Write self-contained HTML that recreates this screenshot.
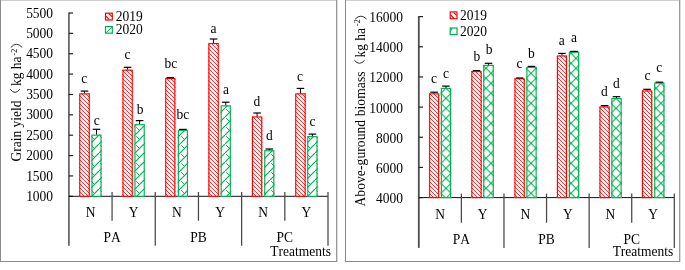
<!DOCTYPE html><html><head><meta charset="utf-8"><style>html,body{margin:0;padding:0;background:#fff;width:685px;height:270px;overflow:hidden}svg{display:block}text{font-family:"Liberation Serif",serif;fill:#000;font-kerning:none}</style></head><body>
<div style="width:685px;height:270px;will-change:transform"><svg width="685" height="270" viewBox="0 0 685 270">
<defs>
<pattern id="pr" patternUnits="userSpaceOnUse" width="4" height="4"><rect width="4" height="4" fill="#fff"/><path d="M-1,-1 L5,5 M-1,3 L1,5 M3,-1 L5,1" stroke="#ff0000" stroke-width="0.82"/></pattern>
<pattern id="pg" patternUnits="userSpaceOnUse" width="9" height="9"><rect width="9" height="9" fill="#fff"/><path d="M-1,10 L10,-1" stroke="#00b050" stroke-width="1.15" fill="none"/><path d="M1.2,1.2 L4.5,4.5" stroke="#00b050" stroke-width="0.95" fill="none"/></pattern>
<pattern id="pg2" patternUnits="userSpaceOnUse" width="10" height="10" patternTransform="translate(1,3.3)"><rect width="10" height="10" fill="#fff"/><path d="M-1,11 L11,-1 M-1,-1 L11,11" stroke="#00b050" stroke-width="1.05" fill="none"/></pattern>
</defs>
<rect width="685" height="270" fill="#fff"/>
<rect x="0.00" y="0.00" width="337.00" height="1.00" fill="#cfcfcf" stroke="none" stroke-width="0"/>
<rect x="0.00" y="0.00" width="1.00" height="262.00" fill="#8a8a8a" stroke="none" stroke-width="0"/>
<rect x="336.00" y="0.00" width="1.00" height="262.00" fill="#9a9a9a" stroke="none" stroke-width="0"/>
<rect x="337.00" y="0.00" width="1.00" height="262.00" fill="#dcdcdc" stroke="none" stroke-width="0"/>
<rect x="0.00" y="261.00" width="337.00" height="1.00" fill="#8a8a8a" stroke="none" stroke-width="0"/>
<rect x="345.00" y="0.00" width="335.00" height="1.00" fill="#cfcfcf" stroke="none" stroke-width="0"/>
<rect x="345.00" y="0.00" width="1.00" height="262.00" fill="#8a8a8a" stroke="none" stroke-width="0"/>
<rect x="679.00" y="0.00" width="1.00" height="262.00" fill="#9a9a9a" stroke="none" stroke-width="0"/>
<rect x="680.00" y="0.00" width="1.00" height="262.00" fill="#dcdcdc" stroke="none" stroke-width="0"/>
<rect x="345.00" y="261.00" width="335.00" height="1.00" fill="#8a8a8a" stroke="none" stroke-width="0"/>
<rect x="68.00" y="12.50" width="1.8" height="233.30" fill="#6a6a6a"/>
<line x1="68.90" y1="196.30" x2="73.10" y2="196.30" stroke="#222" stroke-width="1.2"/>
<text transform="translate(53.10,200.90) scale(1,1.03)" text-anchor="end" font-size="13.5" >1000</text>
<line x1="68.90" y1="175.93" x2="73.10" y2="175.93" stroke="#222" stroke-width="1.2"/>
<text transform="translate(53.10,180.53) scale(1,1.03)" text-anchor="end" font-size="13.5" >1500</text>
<line x1="68.90" y1="155.57" x2="73.10" y2="155.57" stroke="#222" stroke-width="1.2"/>
<text transform="translate(53.10,160.17) scale(1,1.03)" text-anchor="end" font-size="13.5" >2000</text>
<line x1="68.90" y1="135.20" x2="73.10" y2="135.20" stroke="#222" stroke-width="1.2"/>
<text transform="translate(53.10,139.80) scale(1,1.03)" text-anchor="end" font-size="13.5" >2500</text>
<line x1="68.90" y1="114.83" x2="73.10" y2="114.83" stroke="#222" stroke-width="1.2"/>
<text transform="translate(53.10,119.43) scale(1,1.03)" text-anchor="end" font-size="13.5" >3000</text>
<line x1="68.90" y1="94.47" x2="73.10" y2="94.47" stroke="#222" stroke-width="1.2"/>
<text transform="translate(53.10,99.07) scale(1,1.03)" text-anchor="end" font-size="13.5" >3500</text>
<line x1="68.90" y1="74.10" x2="73.10" y2="74.10" stroke="#222" stroke-width="1.2"/>
<text transform="translate(53.10,78.70) scale(1,1.03)" text-anchor="end" font-size="13.5" >4000</text>
<line x1="68.90" y1="53.73" x2="73.10" y2="53.73" stroke="#222" stroke-width="1.2"/>
<text transform="translate(53.10,58.33) scale(1,1.03)" text-anchor="end" font-size="13.5" >4500</text>
<line x1="68.90" y1="33.37" x2="73.10" y2="33.37" stroke="#222" stroke-width="1.2"/>
<text transform="translate(53.10,37.97) scale(1,1.03)" text-anchor="end" font-size="13.5" >5000</text>
<line x1="68.90" y1="13.00" x2="73.10" y2="13.00" stroke="#222" stroke-width="1.2"/>
<text transform="translate(53.10,17.60) scale(1,1.03)" text-anchor="end" font-size="13.5" >5500</text>
<line x1="68.90" y1="196.30" x2="328.00" y2="196.30" stroke="#111" stroke-width="1.0"/>
<line x1="112.08" y1="192.00" x2="112.08" y2="220.70" stroke="#474747" stroke-width="1.25"/>
<line x1="155.27" y1="192.00" x2="155.27" y2="245.80" stroke="#474747" stroke-width="1.25"/>
<line x1="198.45" y1="192.00" x2="198.45" y2="220.70" stroke="#474747" stroke-width="1.25"/>
<line x1="241.63" y1="192.00" x2="241.63" y2="245.80" stroke="#474747" stroke-width="1.25"/>
<line x1="284.82" y1="192.00" x2="284.82" y2="220.70" stroke="#474747" stroke-width="1.25"/>
<line x1="328.00" y1="192.00" x2="328.00" y2="245.80" stroke="#474747" stroke-width="1.25"/>
<text transform="translate(90.49,217.00) scale(1,1.03)" text-anchor="middle" font-size="13.5" >N</text>
<text transform="translate(133.68,217.00) scale(1,1.03)" text-anchor="middle" font-size="13.5" >Y</text>
<text transform="translate(176.86,217.00) scale(1,1.03)" text-anchor="middle" font-size="13.5" >N</text>
<text transform="translate(220.04,217.00) scale(1,1.03)" text-anchor="middle" font-size="13.5" >Y</text>
<text transform="translate(263.23,217.00) scale(1,1.03)" text-anchor="middle" font-size="13.5" >N</text>
<text transform="translate(306.41,217.00) scale(1,1.03)" text-anchor="middle" font-size="13.5" >Y</text>
<text transform="translate(112.08,241.70) scale(1,1.03)" text-anchor="middle" font-size="13.5" >PA</text>
<text transform="translate(198.45,241.70) scale(1,1.03)" text-anchor="middle" font-size="13.5" >PB</text>
<text transform="translate(284.82,241.70) scale(1,1.03)" text-anchor="middle" font-size="13.5" >PC</text>
<text transform="translate(331.00,255.80) scale(1,1.03)" text-anchor="end" font-size="13.5" >Treatments</text>
<rect x="79.00" y="93.30" width="11.00" height="103.00" fill="url(#pr)"/>
<rect x="79.78" y="93.88" width="9.45" height="102.43" fill="none" stroke="#ff0000" stroke-width="1.15"/>
<line x1="84.50" y1="91.10" x2="84.50" y2="93.30" stroke="#000" stroke-width="1"/>
<line x1="80.70" y1="91.10" x2="88.30" y2="91.10" stroke="#000" stroke-width="1.2"/>
<rect x="91.20" y="134.60" width="10.60" height="61.70" fill="url(#pg)"/>
<rect x="91.98" y="135.17" width="9.05" height="61.13" fill="none" stroke="#00b050" stroke-width="1.15"/>
<line x1="96.50" y1="129.30" x2="96.50" y2="134.60" stroke="#000" stroke-width="1"/>
<line x1="92.70" y1="129.30" x2="100.30" y2="129.30" stroke="#000" stroke-width="1.2"/>
<rect x="122.20" y="69.60" width="10.80" height="126.70" fill="url(#pr)"/>
<rect x="122.98" y="70.17" width="9.25" height="126.13" fill="none" stroke="#ff0000" stroke-width="1.15"/>
<line x1="127.60" y1="67.30" x2="127.60" y2="69.60" stroke="#000" stroke-width="1"/>
<line x1="123.80" y1="67.30" x2="131.40" y2="67.30" stroke="#000" stroke-width="1.2"/>
<rect x="134.20" y="124.10" width="10.80" height="72.20" fill="url(#pg)"/>
<rect x="134.97" y="124.67" width="9.25" height="71.63" fill="none" stroke="#00b050" stroke-width="1.15"/>
<line x1="139.60" y1="120.60" x2="139.60" y2="124.10" stroke="#000" stroke-width="1"/>
<line x1="135.80" y1="120.60" x2="143.40" y2="120.60" stroke="#000" stroke-width="1.2"/>
<rect x="165.00" y="78.00" width="10.60" height="118.30" fill="url(#pr)"/>
<rect x="165.77" y="78.58" width="9.05" height="117.73" fill="none" stroke="#ff0000" stroke-width="1.15"/>
<line x1="166.50" y1="77.60" x2="174.10" y2="77.60" stroke="#000" stroke-width="1.2"/>
<rect x="177.60" y="129.80" width="10.60" height="66.50" fill="url(#pg)"/>
<rect x="178.37" y="130.38" width="9.05" height="65.92" fill="none" stroke="#00b050" stroke-width="1.15"/>
<line x1="179.10" y1="129.40" x2="186.70" y2="129.40" stroke="#000" stroke-width="1.2"/>
<rect x="208.10" y="43.00" width="10.90" height="153.30" fill="url(#pr)"/>
<rect x="208.87" y="43.58" width="9.35" height="152.73" fill="none" stroke="#ff0000" stroke-width="1.15"/>
<line x1="213.55" y1="39.00" x2="213.55" y2="43.00" stroke="#000" stroke-width="1"/>
<line x1="209.75" y1="39.00" x2="217.35" y2="39.00" stroke="#000" stroke-width="1.2"/>
<rect x="220.40" y="105.30" width="10.70" height="91.00" fill="url(#pg)"/>
<rect x="221.17" y="105.88" width="9.15" height="90.43" fill="none" stroke="#00b050" stroke-width="1.15"/>
<line x1="225.75" y1="102.20" x2="225.75" y2="105.30" stroke="#000" stroke-width="1"/>
<line x1="221.95" y1="102.20" x2="229.55" y2="102.20" stroke="#000" stroke-width="1.2"/>
<rect x="251.70" y="116.40" width="10.80" height="79.90" fill="url(#pr)"/>
<rect x="252.47" y="116.98" width="9.25" height="79.33" fill="none" stroke="#ff0000" stroke-width="1.15"/>
<line x1="257.10" y1="113.00" x2="257.10" y2="116.40" stroke="#000" stroke-width="1"/>
<line x1="253.30" y1="113.00" x2="260.90" y2="113.00" stroke="#000" stroke-width="1.2"/>
<rect x="264.00" y="150.20" width="10.60" height="46.10" fill="url(#pg)"/>
<rect x="264.77" y="150.77" width="9.05" height="45.53" fill="none" stroke="#00b050" stroke-width="1.15"/>
<line x1="269.30" y1="149.00" x2="269.30" y2="150.20" stroke="#000" stroke-width="1"/>
<line x1="265.50" y1="149.00" x2="273.10" y2="149.00" stroke="#000" stroke-width="1.2"/>
<rect x="295.00" y="93.30" width="10.90" height="103.00" fill="url(#pr)"/>
<rect x="295.77" y="93.88" width="9.35" height="102.43" fill="none" stroke="#ff0000" stroke-width="1.15"/>
<line x1="300.45" y1="88.40" x2="300.45" y2="93.30" stroke="#000" stroke-width="1"/>
<line x1="296.65" y1="88.40" x2="304.25" y2="88.40" stroke="#000" stroke-width="1.2"/>
<rect x="307.00" y="136.10" width="10.80" height="60.20" fill="url(#pg)"/>
<rect x="307.77" y="136.67" width="9.25" height="59.63" fill="none" stroke="#00b050" stroke-width="1.15"/>
<line x1="312.40" y1="134.10" x2="312.40" y2="136.10" stroke="#000" stroke-width="1"/>
<line x1="308.60" y1="134.10" x2="316.20" y2="134.10" stroke="#000" stroke-width="1.2"/>
<text transform="translate(84.35,83.30) scale(1,1.03)" text-anchor="middle" font-size="13.5" >c</text>
<text transform="translate(96.65,124.80) scale(1,1.03)" text-anchor="middle" font-size="13.5" >c</text>
<text transform="translate(127.40,59.30) scale(1,1.03)" text-anchor="middle" font-size="13.5" >c</text>
<text transform="translate(140.00,113.50) scale(1,1.03)" text-anchor="middle" font-size="13.5" >b</text>
<text transform="translate(170.80,68.00) scale(1,1.03)" text-anchor="middle" font-size="13.5" >bc</text>
<text transform="translate(182.90,119.40) scale(1,1.03)" text-anchor="middle" font-size="13.5" >bc</text>
<text transform="translate(213.60,33.00) scale(1,1.03)" text-anchor="middle" font-size="13.5" >a</text>
<text transform="translate(225.90,94.20) scale(1,1.03)" text-anchor="middle" font-size="13.5" >a</text>
<text transform="translate(256.90,106.00) scale(1,1.03)" text-anchor="middle" font-size="13.5" >d</text>
<text transform="translate(269.30,139.80) scale(1,1.03)" text-anchor="middle" font-size="13.5" >d</text>
<text transform="translate(300.10,80.70) scale(1,1.03)" text-anchor="middle" font-size="13.5" >c</text>
<text transform="translate(312.50,125.60) scale(1,1.03)" text-anchor="middle" font-size="13.5" >c</text>
<rect x="105.50" y="13.20" width="6.8" height="6.8" fill="#fff" stroke="#ff0000" stroke-width="1.2"/>
<path d="M108.90,13.60 L111.90,16.60 M105.90,16.20 L109.30,19.60" stroke="#ff0000" stroke-width="1.2"/>
<rect x="105.50" y="26.60" width="6.8" height="6.6" fill="#fff" stroke="#00b050" stroke-width="1.2"/>
<path d="M106.10,32.80 L111.80,27.10" stroke="#00b050" stroke-width="1.0" fill="none"/>
<text transform="translate(115.80,20.90) scale(1,1.03)" text-anchor="start" font-size="13.5" >2019</text>
<text transform="translate(115.80,34.30) scale(1,1.03)" text-anchor="start" font-size="13.5" >2020</text>
<text transform="translate(21.20,161.50) rotate(-90) scale(1,1.03)" font-size="13.5">Grain yield</text>
<path d="M10.20,89.20 Q15.05,95.60 19.90,89.20" fill="none" stroke="#1a1a1a" stroke-width="0.9"/>
<text transform="translate(21.20,86.00) rotate(-90) scale(1,1.03)" font-size="13.5">kg ha</text>
<text transform="translate(17.00,55.50) rotate(-90) scale(1,1.03)" font-size="8">-2</text>
<path d="M10.80,47.40 Q16.50,41.20 22.20,47.40" fill="none" stroke="#1a1a1a" stroke-width="0.9"/>
<rect x="417.90" y="16.10" width="1.8" height="231.80" fill="#4e4e4e"/>
<line x1="418.80" y1="197.60" x2="423.00" y2="197.60" stroke="#222" stroke-width="1.2"/>
<text transform="translate(403.00,203.00) scale(1,1.03)" text-anchor="end" font-size="13.5" >4000</text>
<line x1="418.80" y1="167.43" x2="423.00" y2="167.43" stroke="#222" stroke-width="1.2"/>
<text transform="translate(403.00,172.83) scale(1,1.03)" text-anchor="end" font-size="13.5" >6000</text>
<line x1="418.80" y1="137.27" x2="423.00" y2="137.27" stroke="#222" stroke-width="1.2"/>
<text transform="translate(403.00,142.67) scale(1,1.03)" text-anchor="end" font-size="13.5" >8000</text>
<line x1="418.80" y1="107.10" x2="423.00" y2="107.10" stroke="#222" stroke-width="1.2"/>
<text transform="translate(403.00,112.50) scale(1,1.03)" text-anchor="end" font-size="13.5" >10000</text>
<line x1="418.80" y1="76.93" x2="423.00" y2="76.93" stroke="#222" stroke-width="1.2"/>
<text transform="translate(403.00,82.33) scale(1,1.03)" text-anchor="end" font-size="13.5" >12000</text>
<line x1="418.80" y1="46.77" x2="423.00" y2="46.77" stroke="#222" stroke-width="1.2"/>
<text transform="translate(403.00,52.17) scale(1,1.03)" text-anchor="end" font-size="13.5" >14000</text>
<line x1="418.80" y1="16.60" x2="423.00" y2="16.60" stroke="#222" stroke-width="1.2"/>
<text transform="translate(403.00,22.00) scale(1,1.03)" text-anchor="end" font-size="13.5" >16000</text>
<line x1="418.80" y1="197.60" x2="674.30" y2="197.60" stroke="#111" stroke-width="1.0"/>
<line x1="461.38" y1="193.60" x2="461.38" y2="222.70" stroke="#474747" stroke-width="1.25"/>
<line x1="503.97" y1="193.60" x2="503.97" y2="247.90" stroke="#474747" stroke-width="1.25"/>
<line x1="546.55" y1="193.60" x2="546.55" y2="222.70" stroke="#474747" stroke-width="1.25"/>
<line x1="589.13" y1="193.60" x2="589.13" y2="247.90" stroke="#474747" stroke-width="1.25"/>
<line x1="631.72" y1="193.60" x2="631.72" y2="222.70" stroke="#474747" stroke-width="1.25"/>
<line x1="674.30" y1="193.60" x2="674.30" y2="247.90" stroke="#474747" stroke-width="1.25"/>
<text transform="translate(440.09,219.10) scale(1,1.03)" text-anchor="middle" font-size="13.5" >N</text>
<text transform="translate(482.68,219.10) scale(1,1.03)" text-anchor="middle" font-size="13.5" >Y</text>
<text transform="translate(525.26,219.10) scale(1,1.03)" text-anchor="middle" font-size="13.5" >N</text>
<text transform="translate(567.84,219.10) scale(1,1.03)" text-anchor="middle" font-size="13.5" >Y</text>
<text transform="translate(610.42,219.10) scale(1,1.03)" text-anchor="middle" font-size="13.5" >N</text>
<text transform="translate(653.01,219.10) scale(1,1.03)" text-anchor="middle" font-size="13.5" >Y</text>
<text transform="translate(461.38,243.90) scale(1,1.03)" text-anchor="middle" font-size="13.5" >PA</text>
<text transform="translate(546.55,243.90) scale(1,1.03)" text-anchor="middle" font-size="13.5" >PB</text>
<text transform="translate(631.72,243.90) scale(1,1.03)" text-anchor="middle" font-size="13.5" >PC</text>
<text transform="translate(673.30,255.80) scale(1,1.03)" text-anchor="end" font-size="13.5" >Treatments</text>
<rect x="428.90" y="93.30" width="10.50" height="104.30" fill="url(#pr)"/>
<rect x="429.67" y="93.88" width="8.95" height="103.72" fill="none" stroke="#ff0000" stroke-width="1.15"/>
<line x1="434.15" y1="92.20" x2="434.15" y2="93.30" stroke="#000" stroke-width="1"/>
<line x1="430.35" y1="92.20" x2="437.95" y2="92.20" stroke="#000" stroke-width="1.2"/>
<rect x="440.60" y="87.80" width="10.70" height="109.80" fill="url(#pg2)"/>
<rect x="441.38" y="88.38" width="9.15" height="109.22" fill="none" stroke="#00b050" stroke-width="1.15"/>
<line x1="445.95" y1="86.10" x2="445.95" y2="87.80" stroke="#000" stroke-width="1"/>
<line x1="442.15" y1="86.10" x2="449.75" y2="86.10" stroke="#000" stroke-width="1.2"/>
<rect x="471.10" y="71.10" width="10.80" height="126.50" fill="url(#pr)"/>
<rect x="471.88" y="71.67" width="9.25" height="125.92" fill="none" stroke="#ff0000" stroke-width="1.15"/>
<line x1="472.70" y1="70.60" x2="480.30" y2="70.60" stroke="#000" stroke-width="1.2"/>
<rect x="483.00" y="64.80" width="11.00" height="132.80" fill="url(#pg2)"/>
<rect x="483.77" y="65.38" width="9.45" height="132.23" fill="none" stroke="#00b050" stroke-width="1.15"/>
<line x1="488.50" y1="63.30" x2="488.50" y2="64.80" stroke="#000" stroke-width="1"/>
<line x1="484.70" y1="63.30" x2="492.30" y2="63.30" stroke="#000" stroke-width="1.2"/>
<rect x="514.20" y="78.30" width="10.80" height="119.30" fill="url(#pr)"/>
<rect x="514.98" y="78.88" width="9.25" height="118.72" fill="none" stroke="#ff0000" stroke-width="1.15"/>
<line x1="515.80" y1="78.00" x2="523.40" y2="78.00" stroke="#000" stroke-width="1.2"/>
<rect x="526.10" y="66.90" width="10.80" height="130.70" fill="url(#pg2)"/>
<rect x="526.88" y="67.48" width="9.25" height="130.12" fill="none" stroke="#00b050" stroke-width="1.15"/>
<line x1="527.70" y1="66.40" x2="535.30" y2="66.40" stroke="#000" stroke-width="1.2"/>
<rect x="556.70" y="55.40" width="10.50" height="142.20" fill="url(#pr)"/>
<rect x="557.48" y="55.98" width="8.95" height="141.62" fill="none" stroke="#ff0000" stroke-width="1.15"/>
<line x1="561.95" y1="53.40" x2="561.95" y2="55.40" stroke="#000" stroke-width="1"/>
<line x1="558.15" y1="53.40" x2="565.75" y2="53.40" stroke="#000" stroke-width="1.2"/>
<rect x="568.60" y="51.70" width="10.80" height="145.90" fill="url(#pg2)"/>
<rect x="569.38" y="52.28" width="9.25" height="145.32" fill="none" stroke="#00b050" stroke-width="1.15"/>
<line x1="570.20" y1="51.40" x2="577.80" y2="51.40" stroke="#000" stroke-width="1.2"/>
<rect x="599.20" y="106.40" width="10.80" height="91.20" fill="url(#pr)"/>
<rect x="599.98" y="106.98" width="9.25" height="90.62" fill="none" stroke="#ff0000" stroke-width="1.15"/>
<line x1="604.60" y1="105.60" x2="604.60" y2="106.40" stroke="#000" stroke-width="1"/>
<line x1="600.80" y1="105.60" x2="608.40" y2="105.60" stroke="#000" stroke-width="1.2"/>
<rect x="611.10" y="98.00" width="10.80" height="99.60" fill="url(#pg2)"/>
<rect x="611.88" y="98.58" width="9.25" height="99.02" fill="none" stroke="#00b050" stroke-width="1.15"/>
<line x1="616.50" y1="96.70" x2="616.50" y2="98.00" stroke="#000" stroke-width="1"/>
<line x1="612.70" y1="96.70" x2="620.30" y2="96.70" stroke="#000" stroke-width="1.2"/>
<rect x="641.70" y="90.40" width="10.80" height="107.20" fill="url(#pr)"/>
<rect x="642.48" y="90.98" width="9.25" height="106.62" fill="none" stroke="#ff0000" stroke-width="1.15"/>
<line x1="647.10" y1="89.30" x2="647.10" y2="90.40" stroke="#000" stroke-width="1"/>
<line x1="643.30" y1="89.30" x2="650.90" y2="89.30" stroke="#000" stroke-width="1.2"/>
<rect x="654.00" y="82.50" width="10.70" height="115.10" fill="url(#pg2)"/>
<rect x="654.78" y="83.08" width="9.15" height="114.52" fill="none" stroke="#00b050" stroke-width="1.15"/>
<line x1="655.55" y1="82.20" x2="663.15" y2="82.20" stroke="#000" stroke-width="1.2"/>
<text transform="translate(433.90,82.80) scale(1,1.03)" text-anchor="middle" font-size="13.5" >c</text>
<text transform="translate(446.10,77.80) scale(1,1.03)" text-anchor="middle" font-size="13.5" >c</text>
<text transform="translate(476.80,61.10) scale(1,1.03)" text-anchor="middle" font-size="13.5" >b</text>
<text transform="translate(489.00,54.40) scale(1,1.03)" text-anchor="middle" font-size="13.5" >b</text>
<text transform="translate(519.40,68.40) scale(1,1.03)" text-anchor="middle" font-size="13.5" >c</text>
<text transform="translate(531.25,57.50) scale(1,1.03)" text-anchor="middle" font-size="13.5" >b</text>
<text transform="translate(561.85,45.00) scale(1,1.03)" text-anchor="middle" font-size="13.5" >a</text>
<text transform="translate(574.10,42.00) scale(1,1.03)" text-anchor="middle" font-size="13.5" >a</text>
<text transform="translate(604.40,96.10) scale(1,1.03)" text-anchor="middle" font-size="13.5" >d</text>
<text transform="translate(616.35,88.30) scale(1,1.03)" text-anchor="middle" font-size="13.5" >d</text>
<text transform="translate(647.40,80.40) scale(1,1.03)" text-anchor="middle" font-size="13.5" >c</text>
<text transform="translate(659.25,71.90) scale(1,1.03)" text-anchor="middle" font-size="13.5" >c</text>
<rect x="450.20" y="11.90" width="6.8" height="6.8" fill="#fff" stroke="#ff0000" stroke-width="1.2"/>
<path d="M453.60,12.30 L456.60,15.30 M450.60,14.90 L454.00,18.30" stroke="#ff0000" stroke-width="1.2"/>
<rect x="450.20" y="28.00" width="6.8" height="6.6" fill="#fff" stroke="#00b050" stroke-width="1.2"/>
<path d="M450.80,28.60 L453.20,28.60 L450.80,31.00z" stroke="none" fill="#00b050"/>
<text transform="translate(460.00,19.60) scale(1,1.03)" text-anchor="start" font-size="13.5" >2019</text>
<text transform="translate(460.00,35.70) scale(1,1.03)" text-anchor="start" font-size="13.5" >2020</text>
<text transform="translate(364.60,206.50) rotate(-90) scale(1,1.03)" font-size="13.5" textLength="135.0" lengthAdjust="spacing">Above-guround biomass</text>
<path d="M354.40,60.30 Q359.50,66.30 364.60,60.30" fill="none" stroke="#1a1a1a" stroke-width="0.9"/>
<text transform="translate(364.60,57.60) rotate(-90) scale(1,1.03)" font-size="13.5">kg ha</text>
<text transform="translate(360.40,25.90) rotate(-90) scale(1,1.03)" font-size="8">-2</text>
<path d="M355.20,19.00 Q360.85,13.40 366.50,19.00" fill="none" stroke="#1a1a1a" stroke-width="0.9"/>
</svg></div></body></html>
